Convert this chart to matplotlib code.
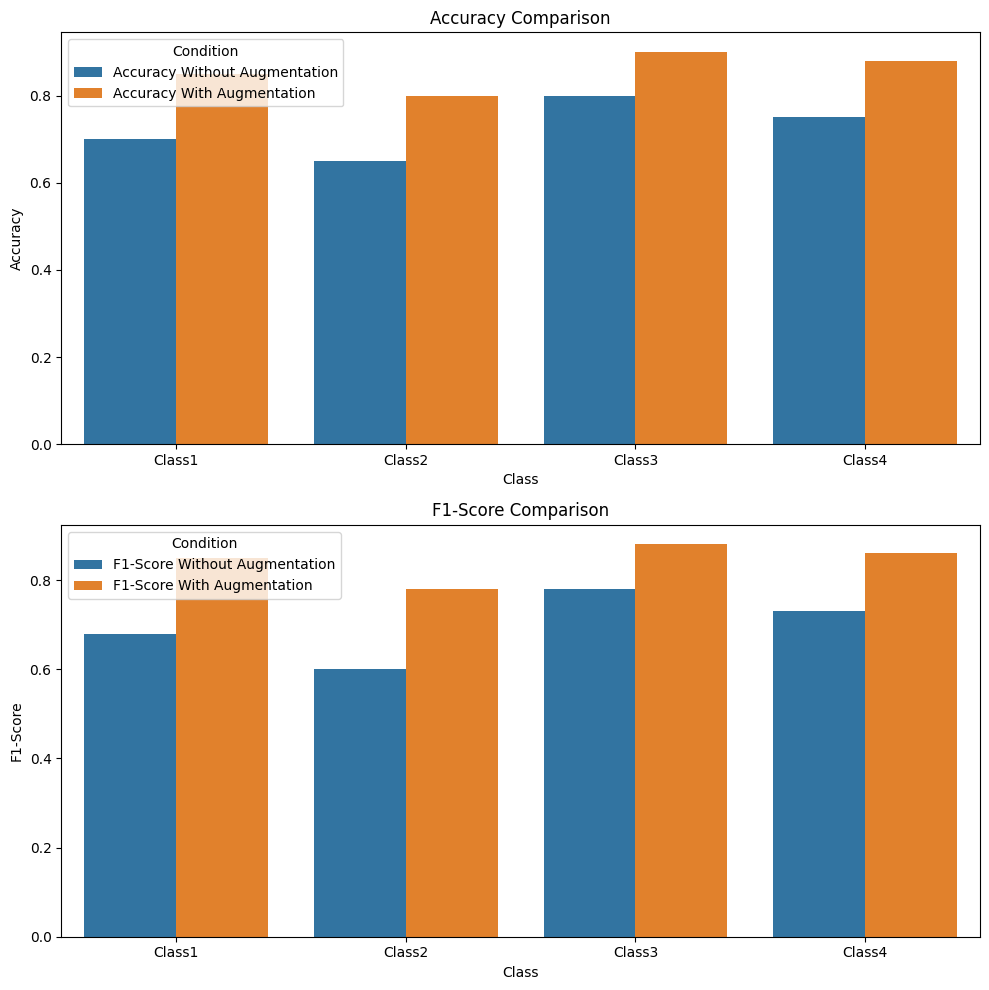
import matplotlib
matplotlib.use("Agg")
import matplotlib.pyplot as plt
import seaborn as sns
import pandas as pd

# Datos
classes = ["Class1", "Class2", "Class3", "Class4"]
acc_without = [0.70, 0.65, 0.80, 0.75]
acc_with = [0.85, 0.80, 0.90, 0.88]
f1_without = [0.68, 0.60, 0.78, 0.73]
f1_with = [0.85, 0.78, 0.88, 0.86]

df_acc = pd.DataFrame({
    "Class": classes,
    "Accuracy Without Augmentation": acc_without,
    "Accuracy With Augmentation": acc_with,
}).melt(id_vars="Class", var_name="Condition", value_name="Accuracy")

df_f1 = pd.DataFrame({
    "Class": classes,
    "F1-Score Without Augmentation": f1_without,
    "F1-Score With Augmentation": f1_with,
}).melt(id_vars="Class", var_name="Condition", value_name="F1-Score")

fig, axes = plt.subplots(2, 1, figsize=(10, 10), dpi=100)

sns.barplot(data=df_acc, x="Class", y="Accuracy", hue="Condition", ax=axes[0])
axes[0].set_title("Accuracy Comparison")
axes[0].legend(title="Condition", loc="upper left")

sns.barplot(data=df_f1, x="Class", y="F1-Score", hue="Condition", ax=axes[1])
axes[1].set_title("F1-Score Comparison")
axes[1].legend(title="Condition", loc="upper left")

plt.tight_layout()
plt.savefig("out.png", bbox_inches="tight")
